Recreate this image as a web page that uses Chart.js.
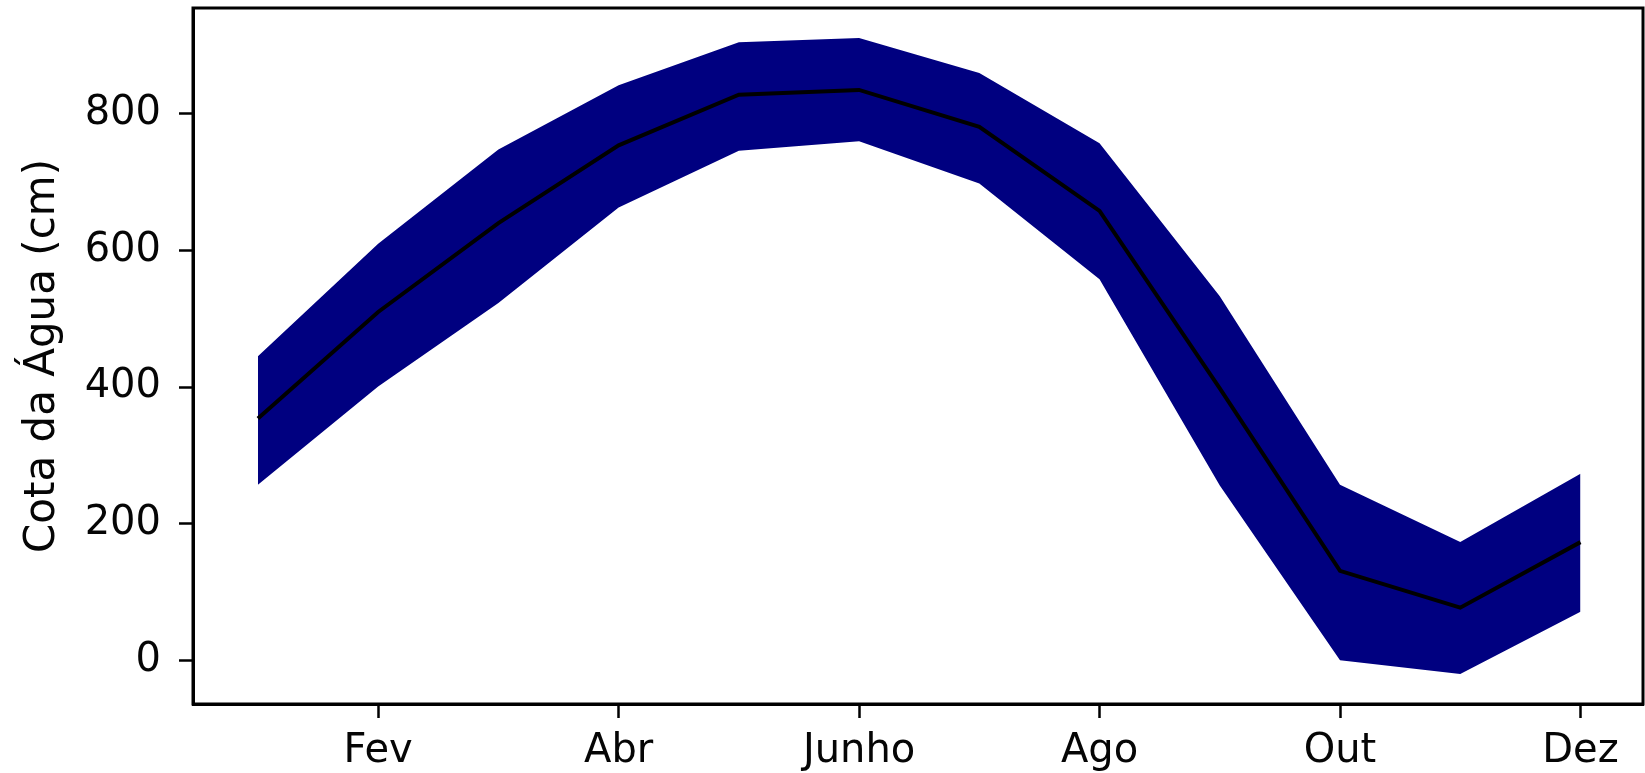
<!DOCTYPE html>
<html>
<head>
<meta charset="utf-8">
<script src="https://cdn.jsdelivr.net/npm/chart.js@4/dist/chart.umd.min.js"></script>
<style>
  html, body { margin: 0; padding: 0; background: #fff; }
  #wrap { width: 1645px; height: 773px; }
</style>
</head>
<body>
<div id="wrap"><canvas id="c" width="1645" height="773"></canvas></div>
<script>
// ---- data ----
const months = ['Jan', 'Fev', 'Mar', 'Abr', 'Mai', 'Junho', 'Jul', 'Ago', 'Set', 'Out', 'Nov', 'Dez'];
const meanLevel  = [354, 510, 640, 754, 828, 835, 781, 658, 398, 131, 77, 173];
const upperLevel = [445, 610, 748, 842, 905, 911, 860, 757, 533, 257, 173, 273];
const lowerLevel = [257, 401, 523, 663, 746, 760, 698, 558, 256, 0, -20, 71];
const xTickIndex = [1, 3, 5, 7, 9, 11];
const yTickValues = [0, 200, 400, 600, 800];
const yTitle = 'Cota da Água (cm)';

const toPoints = arr => arr.map((v, i) => ({ x: i, y: v }));

const FONT = { family: '"DejaVu Sans", sans-serif', size: 40 };
const TITLE_FONT = { family: '"DejaVu Sans", sans-serif', size: 42 };
const INK = '#050505';

const framePlugin = {
  id: 'frame',
  afterDraw(chart) {
    const a = chart.chartArea, ctx = chart.ctx;
    ctx.save();
    ctx.strokeStyle = '#000';
    ctx.lineWidth = 3;
    ctx.strokeRect(a.left, a.top, a.right - a.left, a.bottom - a.top);
    ctx.restore();
  }
};

new Chart(document.getElementById('c'), {
  type: 'line',
  data: {
    datasets: [
      { label: 'média', data: toPoints(meanLevel), borderColor: '#000', borderWidth: 4,
        pointRadius: 0, fill: false, tension: 0 },
      { label: 'superior', data: toPoints(upperLevel), borderWidth: 0, borderColor: 'rgba(0,0,0,0)',
        backgroundColor: '#000080', pointRadius: 0, fill: 2, tension: 0 },
      { label: 'inferior', data: toPoints(lowerLevel), borderWidth: 0, borderColor: 'rgba(0,0,0,0)',
        pointRadius: 0, fill: false, tension: 0 }
    ]
  },
  options: {
    responsive: false,
    animation: false,
    events: [],
    layout: { padding: { left: 0, right: 2, top: 8, bottom: 0 } },
    plugins: {
      legend: { display: false },
      tooltip: { enabled: false },
      filler: { drawTime: 'beforeDatasetsDraw' }
    },
    scales: {
      x: {
        type: 'linear',
        min: -0.54,
        max: 11.52,
        afterBuildTicks: s => { s.ticks = xTickIndex.map(v => ({ value: v })); },
        afterFit: s => { s.height = 69; s.paddingLeft = 0; s.paddingRight = 0; },
        ticks: {
          callback: v => months[v],
          font: FONT, color: INK, padding: 10, maxRotation: 0, autoSkip: false
        },
        grid: { display: true, drawOnChartArea: false, tickLength: 14, tickWidth: 2.5, tickColor: '#000' },
        border: { display: true, color: '#000', width: 3 }
      },
      y: {
        type: 'linear',
        min: -64,
        max: 955,
        afterBuildTicks: s => { s.ticks = yTickValues.map(v => ({ value: v })); },
        afterFit: s => { s.width = 193; s.paddingTop = 0; s.paddingBottom = 0; },
        ticks: { font: FONT, color: INK, padding: 18 },
        grid: { display: true, drawOnChartArea: false, tickLength: 14, tickWidth: 2.5, tickColor: '#000' },
        border: { display: true, color: '#000', width: 3 },
        title: { display: true, text: yTitle, font: TITLE_FONT, color: INK, padding: { top: 18, bottom: 0 } }
      }
    }
  },
  plugins: [framePlugin]
});
</script>
</body>
</html>
